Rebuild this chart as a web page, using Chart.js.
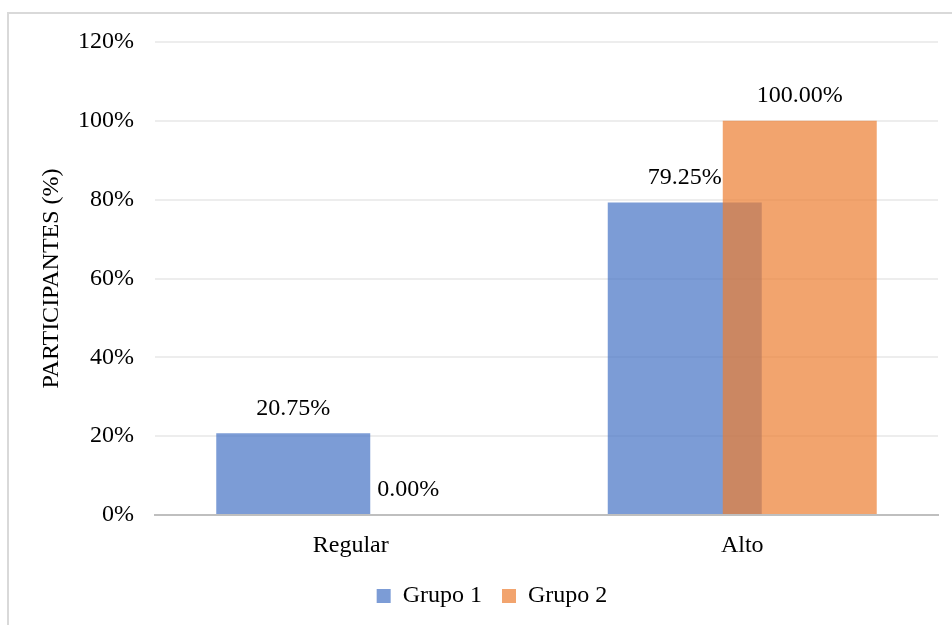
<!DOCTYPE html>
<html>
<head>
<meta charset="utf-8">
<script src="https://cdn.jsdelivr.net/npm/chart.js@4"></script>
<style>
  html, body { margin: 0; padding: 0; background: #ffffff; }
  #wrap { width: 952px; height: 625px; position: relative; }
</style>
</head>
<body>
<div id="wrap"><canvas id="chart" width="952" height="625"></canvas></div>
<script>
// Participants per level, in percent
const categories = ['Regular', 'Alto'];
const seriesNames = ['Grupo 1', 'Grupo 2'];
const grupo1 = [20.75, 79.25];
const grupo2 = [0, 100];
const yMin = 0;
const yMax = 120;
const yStep = 20;
const yTitle = 'PARTICIPANTES (%)';

const FONT = "'Liberation Serif', 'Times New Roman', serif";
const FONT_SIZE = 24;

// Thin frame along the top and left edges
const framePlugin = {
  id: 'frame',
  beforeDraw(chart) {
    const ctx = chart.ctx;
    ctx.save();
    ctx.strokeStyle = '#d9d9d9';
    ctx.lineWidth = 2;
    ctx.beginPath();
    ctx.moveTo(952, 13);
    ctx.lineTo(8, 13);
    ctx.lineTo(8, 625);
    ctx.stroke();
    ctx.restore();
  }
};

// Draw the series in their natural order so the second one overlays the first
const seriesOrderPlugin = {
  id: 'seriesOrder',
  beforeDatasetsDraw(chart) {
    chart.data.datasets.forEach((ds, i) => {
      const meta = chart.getDatasetMeta(i);
      if (!meta.hidden && chart.isDatasetVisible(i)) meta.controller.draw();
    });
    return false;
  }
};

// Value labels above each bar
const valueLabelPlugin = {
  id: 'valueLabels',
  afterDraw(chart) {
    const ctx = chart.ctx;
    ctx.save();
    ctx.font = FONT_SIZE + 'px ' + FONT;
    ctx.fillStyle = '#000000';
    ctx.textAlign = 'center';
    ctx.textBaseline = 'middle';
    chart.data.datasets.forEach((ds, i) => {
      const meta = chart.getDatasetMeta(i);
      meta.data.forEach((bar, j) => {
        ctx.fillText(ds.data[j].toFixed(2) + '%', bar.x, bar.y - 25);
      });
    });
    ctx.restore();
  }
};

new Chart(document.getElementById('chart'), {
  type: 'bar',
  data: {
    labels: categories,
    datasets: [
      {
        label: seriesNames[0],
        data: grupo1,
        backgroundColor: 'rgba(68,114,196,0.7)',
        borderWidth: 0,
        categoryPercentage: 0.5875,
        barPercentage: 1.339
      },
      {
        label: seriesNames[1],
        data: grupo2,
        backgroundColor: 'rgba(237,125,49,0.7)',
        borderWidth: 0,
        categoryPercentage: 0.5875,
        barPercentage: 1.339
      }
    ]
  },
  options: {
    responsive: false,
    animation: false,
    devicePixelRatio: 1,
    layout: { padding: { left: 46, right: 14, top: 42, bottom: 7 } },
    plugins: {
      legend: {
        position: 'bottom',
        labels: {
          font: { family: FONT, size: FONT_SIZE },
          color: '#000000',
          boxWidth: 14,
          boxHeight: 14,
          padding: 20
        }
      },
      tooltip: { enabled: false }
    },
    scales: {
      x: {
        grid: { display: false, drawTicks: false },
        border: { display: true, color: '#bfbfbf', width: 2 },
        ticks: {
          font: { family: FONT, size: FONT_SIZE },
          color: '#000000',
          padding: 16
        },
        afterFit(scale) { scale.height = 49; }
      },
      y: {
        min: yMin,
        max: yMax,
        grid: { color: '#ededed', lineWidth: 2, drawTicks: false },
        border: { display: false },
        ticks: {
          stepSize: yStep,
          font: { family: FONT, size: FONT_SIZE },
          color: '#000000',
          padding: 21,
          callback: (v) => v + '%'
        },
        title: {
          display: true,
          text: yTitle,
          font: { family: FONT, size: FONT_SIZE },
          color: '#000000',
          padding: { top: -9, bottom: 0 }
        },
        afterFit(scale) { scale.width = 109; }
      }
    }
  },
  plugins: [framePlugin, seriesOrderPlugin, valueLabelPlugin]
});
</script>
</body>
</html>
